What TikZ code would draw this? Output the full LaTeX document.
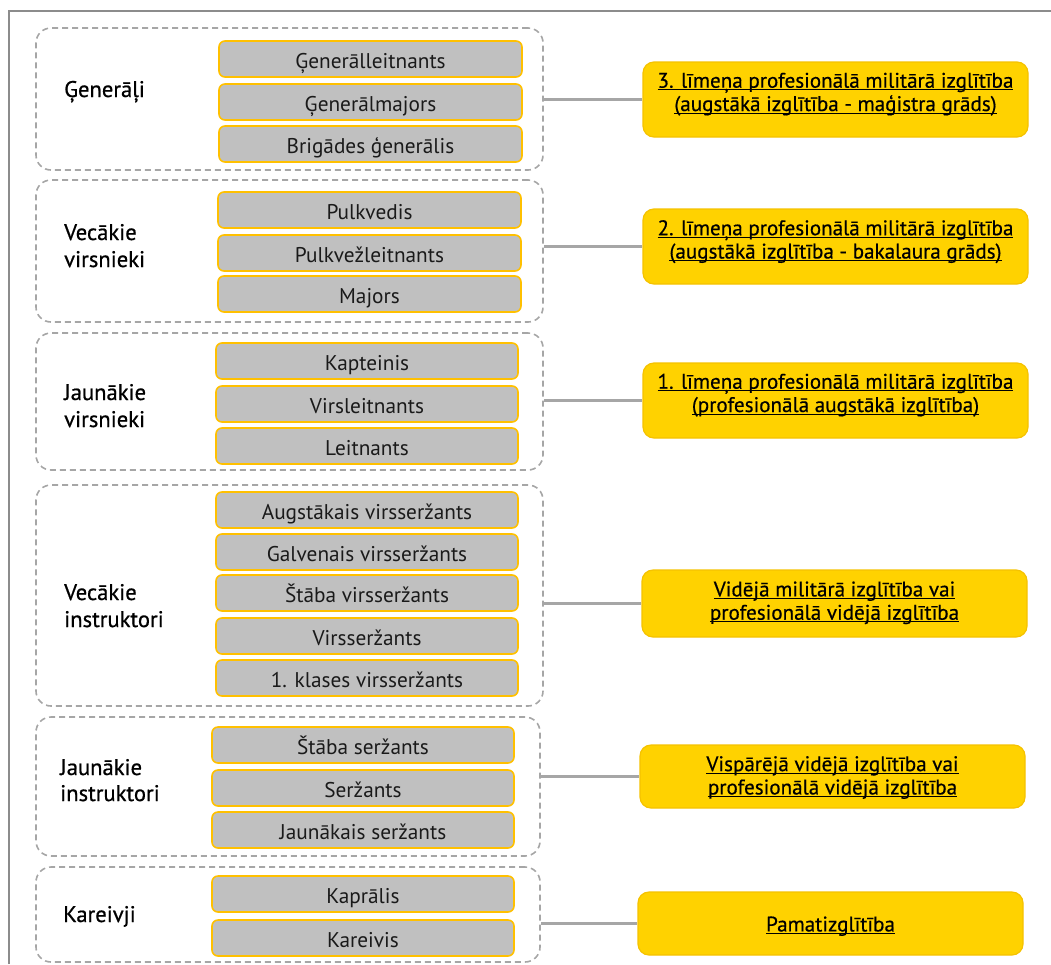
\documentclass[tikz,border=0pt]{standalone}
\usepackage{fontspec}
\setmainfont{PT Sans}
\newfontfamily\lblfont{PT Sans}[FakeBold=0.7]
\newfontfamily\edufont{PT Sans}[FakeBold=0.45]
\usetikzlibrary{calc}
\definecolor{greyfill}{HTML}{C0C0C0}
\definecolor{goldline}{HTML}{FFC000}
\definecolor{yfill}{HTML}{FFD200}
\definecolor{yline}{HTML}{F5C200}
\definecolor{dashgrey}{HTML}{A6A6A6}
\definecolor{txt}{HTML}{1A1A1A}
\newcommand{\ulx}[1]{\setbox0\hbox{#1}\rlap{\rule[-2.6pt]{\wd0}{1pt}}\box0}
\tikzset{
  group/.style={draw=dashgrey, dash pattern=on 6pt off 4pt, line width=1.6pt, rounded corners=15pt, minimum width=507pt, inner sep=0pt},
  rank/.style={draw=goldline, fill=greyfill, line width=1.6pt, rounded corners=6pt, minimum width=303pt, minimum height=36pt, inner sep=0pt, text height=21pt, text depth=3pt, font=\fontsize{21.3}{24}\selectfont, text=txt},
  edu/.style={draw=yline, fill=yfill, line width=1.2pt, rounded corners=11pt, minimum width=385pt, inner sep=0pt},
  edutext/.style={anchor=base, font=\edufont\fontsize{21.1}{23}\selectfont, text=black, inner sep=0pt},
  grouplabel/.style={anchor=base west, font=\lblfont\fontsize{22.6}{27}\selectfont, text=black, inner sep=0pt},
  conn/.style={draw=dashgrey, line width=2.6pt}
}
\begin{document}
\begin{tikzpicture}[x=1pt, y=-1pt]
\useasboundingbox (0,0) rectangle (1051,964);
% frame
\coordinate (ftl) at (9,11);
\coordinate (ftr) at (1051,11);
\coordinate (fbl) at (9,964);
\draw[color=gray!90, line width=1.6pt] (fbl) -- (ftl) -- (ftr);

% groups
\node[group, minimum height=142pt] (g1) at (289.5,99) {};
\node[group, minimum height=142pt] (g2) at (289.5,251) {};
\node[group, minimum height=137pt] (g3) at (289.5,401.5) {};
\node[group, minimum height=221pt] (g4) at (289.5,595.5) {};
\node[group, minimum height=139pt, minimum width=504pt] (g5) at (288,786.5) {};
\node[group, minimum height=95pt, minimum width=504pt] (g6) at (288,914.5) {};

% labels
\node[grouplabel] (l1) at (64,97) {Ģenerāļi};
\node[grouplabel] (l2a) at (64,240) {Vecākie};
\node[grouplabel] (l2b) at (64,267) {virsnieki};
\node[grouplabel] (l3a) at (64,400) {Jaunākie};
\node[grouplabel] (l3b) at (64,427) {virsnieki};
\node[grouplabel] (l4a) at (64,600) {Vecākie};
\node[grouplabel] (l4b) at (64,627) {instruktori};
\node[grouplabel] (l5a) at (60,775) {Jaunākie};
\node[grouplabel] (l5b) at (60,801) {instruktori};
\node[grouplabel] (l6) at (63,922) {Kareivji};

% ranks
\node[rank] (r11) at (370.5,59) {Ģenerālleitnants};
\node[rank] (r12) at (370.5,102) {Ģenerālmajors};
\node[rank] (r13) at (370.5,144) {Brigādes ģenerālis};
\node[rank] (r21) at (369.5,210) {Pulkvedis};
\node[rank] (r22) at (369.5,253) {Pulkvežleitnants};
\node[rank] (r23) at (369.5,294) {Majors};
\node[rank, minimum width=302pt] (r31) at (367,361) {Kapteinis};
\node[rank, minimum width=302pt] (r32) at (367,404) {Virsleitnants};
\node[rank, minimum width=302pt] (r33) at (367,446) {Leitnants};
\node[rank, minimum width=302pt] (r41) at (367,510) {Augstākais virsseržants};
\node[rank, minimum width=302pt] (r42) at (367,552) {Galvenais virsseržants};
\node[rank, minimum width=302pt] (r43) at (367,593) {Štāba virsseržants};
\node[rank, minimum width=302pt] (r44) at (367,636) {Virsseržants};
\node[rank, minimum width=302pt] (r45) at (367,678) {1. klases virsseržants};
\node[rank, minimum width=302pt] (r51) at (363,745) {Štāba seržants};
\node[rank, minimum width=302pt] (r52) at (363,788) {Seržants};
\node[rank, minimum width=302pt] (r53) at (363,830) {Jaunākais seržants};
\node[rank, minimum width=302pt] (r61) at (363,894) {Kaprālis};
\node[rank, minimum width=302pt] (r62) at (363,938) {Kareivis};

% education boxes
\node[edu, minimum height=75pt] (e1) at (835.5,99.5) {};
\node[edu, minimum height=75pt] (e2) at (835.5,246.5) {};
\node[edu, minimum height=75pt] (e3) at (835.5,400.5) {};
\node[edu, minimum height=67pt] (e4) at (834.5,603.5) {};
\node[edu, minimum height=63pt] (e5) at (832.5,776.5) {};
\node[edu, minimum height=63pt] (e6) at (830.5,923.5) {};

\node[edutext] (t1a) at ($(e1.north)+(0,26.3)$) {\ulx{3. līmeņa profesionālā militārā izglītība}};
\node[edutext] (t1b) at ($(e1.north)+(0,49.6)$) {\ulx{(augstākā izglītība - maģistra grāds)}};
\node[edutext] (t2a) at ($(e2.north)+(0,26.8)$) {\ulx{2. līmeņa profesionālā militārā izglītība}};
\node[edutext] (t2b) at ($(e2.north)+(0,50.1)$) {\ulx{(augstākā izglītība - bakalaura grāds)}};
\node[edutext] (t3a) at ($(e3.north)+(0,26.3)$) {\ulx{1. līmeņa profesionālā militārā izglītība}};
\node[edutext] (t3b) at ($(e3.north)+(0,49.6)$) {\ulx{(profesionālā augstākā izglītība)}};
\node[edutext] (t4a) at ($(e4.north)+(0,27)$) {\ulx{Vidējā militārā izglītība vai}};
\node[edutext] (t4b) at ($(e4.north)+(0,50.3)$) {\ulx{profesionālā vidējā izglītība}};
\node[edutext] (t5a) at ($(e5.north)+(0,26.7)$) {\ulx{Vispārējā vidējā izglītība vai}};
\node[edutext] (t5b) at ($(e5.north)+(0,50)$) {\ulx{profesionālā vidējā izglītība}};
\node[edutext] (t6) at ($(e6.north)+(0,40)$) {\ulx{Pamatizglītība}};

% connectors
\draw[conn] (g1.east |- e1.west) -- (e1.west);
\draw[conn] (g2.east |- e2.west) -- (e2.west);
\draw[conn] (g3.east |- e3.west) -- (e3.west);
\draw[conn] (g4.east |- e4.west) -- (e4.west);
\draw[conn] (g5.east |- e5.west) -- (e5.west);
\draw[conn] (g6.east |- e6.west) -- (e6.west);
\end{tikzpicture}
\end{document}
